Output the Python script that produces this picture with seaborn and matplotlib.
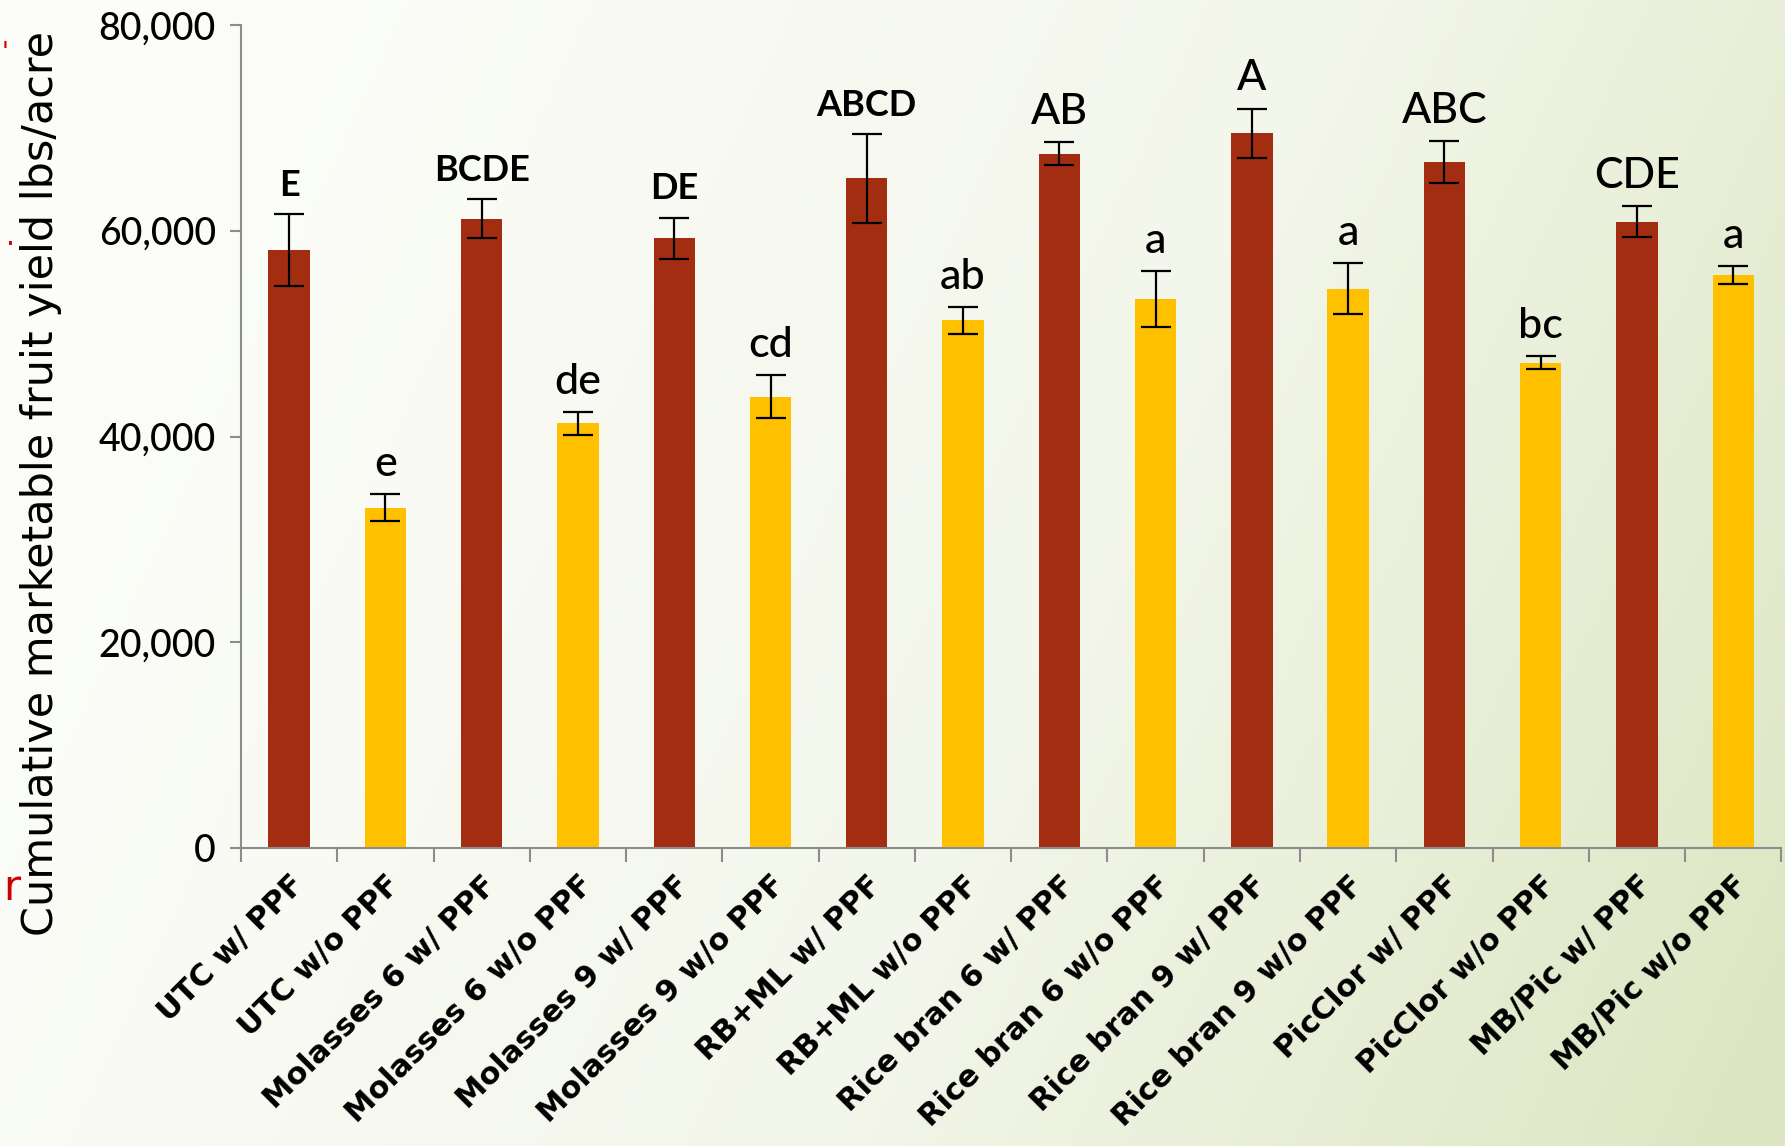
import numpy as np
import pandas as pd
import matplotlib
matplotlib.use("Agg")
import matplotlib.pyplot as plt
import seaborn as sns
from matplotlib.colors import LinearSegmentedColormap

# ---- data ----
treatments = ["UTC w/ PPF", "UTC w/o PPF", "Molasses 6 w/ PPF", "Molasses 6 w/o PPF",
              "Molasses 9 w/ PPF", "Molasses 9 w/o PPF", "RB+ML w/ PPF", "RB+ML w/o PPF",
              "Rice bran 6 w/ PPF", "Rice bran 6 w/o PPF", "Rice bran 9 w/ PPF",
              "Rice bran 9 w/o PPF", "PicClor w/ PPF", "PicClor w/o PPF",
              "MB/Pic w/ PPF", "MB/Pic w/o PPF"]
yields = [58100, 33100, 61200, 41300, 59300, 43900, 65100, 51300,
          67500, 53400, 69500, 54400, 66700, 47200, 60900, 55700]
errors = [3500, 1300, 1900, 1100, 2000, 2100, 4300, 1300,
          1100, 2700, 2400, 2500, 2000, 600, 1500, 900]
letters = ["E", "e", "BCDE", "de", "DE", "cd", "ABCD", "ab",
           "AB", "a", "A", "a", "ABC", "bc", "CDE", "a"]
letter_bold = [True, False, True, False, True, False, True, False,
               False, False, False, False, False, False, False, False]
ppf = ["w/", "w/o"] * 8
yticks = [0, 20000, 40000, 60000, 80000]

RED = "#A32D11"
YEL = "#FFC000"

df = pd.DataFrame({"Treatment": treatments, "Yield": yields, "PPF": ppf})

fig = plt.figure(figsize=(17.85, 11.46), dpi=100)

# background gradient
bg = fig.add_axes([0, 0, 1, 1], zorder=-10)
gx, gy = np.meshgrid(np.linspace(0, 1, 400), np.linspace(0, 1, 300))
t = np.clip(0.85 * gx + 0.25 * gy - 0.08, 0, 1) ** 1.2
cmap = LinearSegmentedColormap.from_list("bgc", ["#fcfdf9", "#f3f6ea", "#dce6c2"])
bg.imshow(t, cmap=cmap, aspect="auto", extent=[0, 1, 0, 1], origin="upper", vmin=0, vmax=1)
bg.axis("off")

ax = fig.add_axes([0.135, 0.26, 0.863, 0.718])
ax.set_facecolor("none")

sns.barplot(data=df, x="Treatment", y="Yield", hue="PPF",
            palette={"w/": RED, "w/o": YEL}, dodge=False, width=0.43,
            legend=False, ax=ax, saturation=1, errorbar=None)

xpos = np.arange(len(treatments))
ax.errorbar(xpos, yields, yerr=errors, fmt="none", ecolor="black",
            elinewidth=1.6, capsize=11, capthick=1.6, zorder=5)

for i, (v, e, lab, b) in enumerate(zip(yields, errors, letters, letter_bold)):
    ax.annotate(lab, (i, v + e), xytext=(0, 13), textcoords="offset points",
                ha="center", va="baseline",
                fontsize=26 if b else 31, fontweight="bold" if b else "medium",
                family="Lato", color="black")

ax.set_ylim(0, 80000)
ax.set_xlim(-0.5, len(treatments) - 0.5)
ax.set_yticks(yticks)
ax.set_yticklabels([f"{v:,}" for v in yticks], family="Lato", fontsize=27,
                   fontweight="medium")
ax.tick_params(axis="y", length=8, width=1.5, color="#8c8c8c", pad=10)

ax.set_xticks(xpos)
ax.set_xticklabels(treatments, rotation=45, ha="right", rotation_mode="anchor",
                   family="DejaVu Sans", fontweight="bold", fontsize=22)
ax.tick_params(axis="x", length=0, pad=16)
ax.set_xticks(np.arange(-0.5, len(treatments)), minor=True)
ax.tick_params(axis="x", which="minor", length=10, width=1.5, color="#8c8c8c")

for s in ["top", "right"]:
    ax.spines[s].set_visible(False)
for s in ["left", "bottom"]:
    ax.spines[s].set_color("#8c8c8c")
    ax.spines[s].set_linewidth(1.5)

ax.set_xlabel("")
ax.set_ylabel("")
fig.text(0.023, 0.578, "Cumulative marketable fruit yield lbs/acre", rotation=90,
         ha="center", va="center", fontsize=31, family="DejaVu Sans", color="black")
fig.text(0.002, 0.225, "r", ha="left", va="center", fontsize=30, color="#cc0000",
         family="DejaVu Sans")
fig.text(0.006, 0.793, ".", ha="center", va="center", fontsize=20, color="#cc0000")
fig.text(0.003, 0.955, "'", ha="center", va="center", fontsize=18, color="#cc0000")

fig.savefig("out.png", dpi=100)
